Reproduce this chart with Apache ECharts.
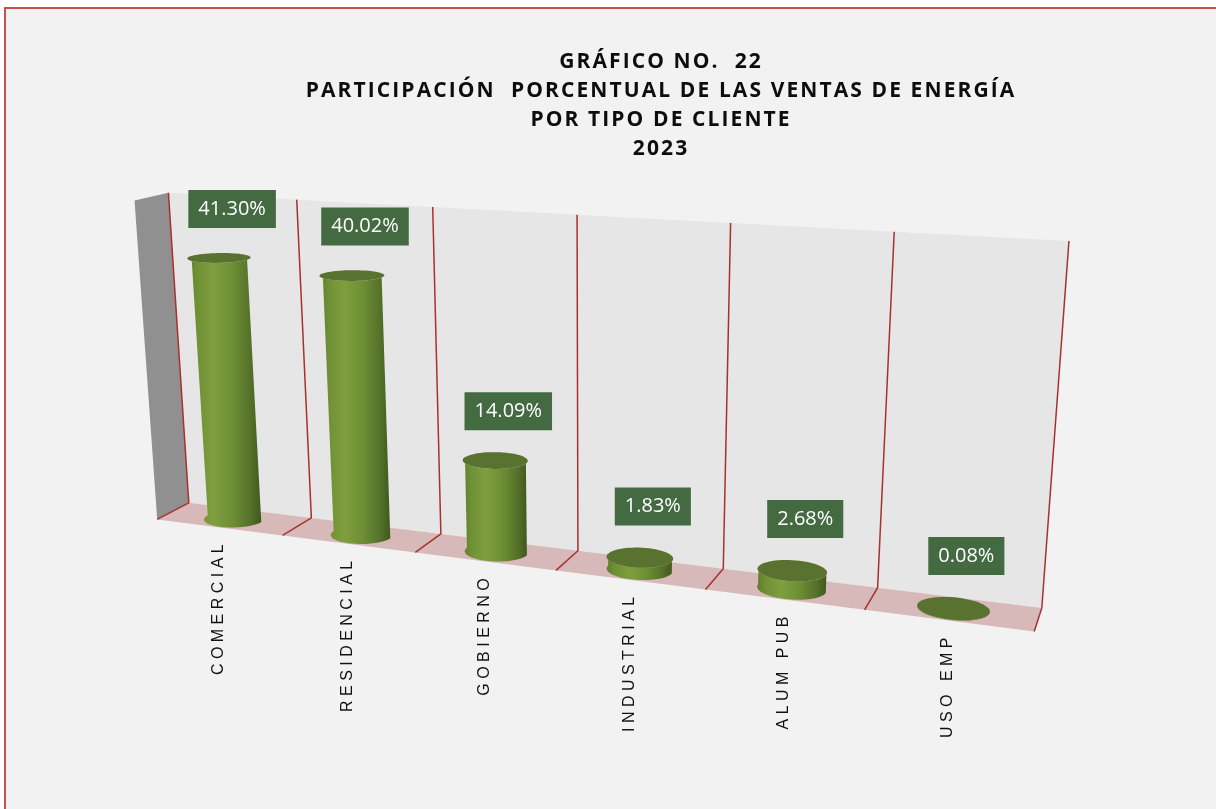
<!DOCTYPE html>
<html>
<head>
<meta charset="utf-8">
<script src="https://cdn.jsdelivr.net/npm/echarts@6/dist/echarts.min.js"></script>
<style>
  html, body { margin: 0; padding: 0; background: #ffffff; }
  #chart { width: 1216px; height: 809px; }
</style>
</head>
<body>
<div id="chart"></div>
<script>
// chart data
const categories = ['COMERCIAL', 'RESIDENCIAL', 'GOBIERNO', 'INDUSTRIAL', 'ALUM PUB', 'USO EMP'];
const shares = [41.30, 40.02, 14.09, 1.83, 2.68, 0.08];
const valueMax = 50;
const titleLines = [
    'GRÁFICO NO.  22',
    'PARTICIPACIÓN  PORCENTUAL DE LAS VENTAS DE ENERGÍA',
    'POR TIPO DE CLIENTE',
    '2023'
];

// perspective frame: world point [X (0..1 across), Y (0..1 up), Z (0 back .. 1 front)] -> screen px
const frameAnchors = [
    [0, 1, 0, 168, 193],
    [1, 1, 0, 1069, 241],
    [0, 0, 0, 189, 503],
    [1, 0, 0, 1042, 608],
    [0, 0, 1, 157, 520],
    [1, 0, 1, 1034, 632],
    [0, 1, 1, 135, 200],
    [0.5, 1, 0, 577, 215],
    [0.5, 0, 0, 578, 550],
    [0.5, 0, 1, 556, 570]
];

const colors = {
    wall: '#e6e6e6',
    floor: '#d7b9b9',
    side: '#909090',
    divider: '#a8312e',
    cap: '#5a722f',
    label: '#446a42'
};

// Excel draws these texts letter-spaced
const spaced = (s, sep) => s.split('').join(sep);

// least squares fit of a 3x4 projection (last entry fixed to 1)
function fitProjection(pts) {
    const N = 11;
    const ata = Array.from({ length: N }, () => new Array(N).fill(0));
    const atb = new Array(N).fill(0);
    pts.forEach(([X, Y, Z, px, py]) => {
        const u = px / 1000, v = py / 1000;
        const rows = [
            [[X, Y, Z, 1, 0, 0, 0, 0, -u * X, -u * Y, -u * Z], u],
            [[0, 0, 0, 0, X, Y, Z, 1, -v * X, -v * Y, -v * Z], v]
        ];
        rows.forEach(([r, b]) => {
            for (let a = 0; a < N; a++) {
                atb[a] += r[a] * b;
                for (let c = 0; c < N; c++) ata[a][c] += r[a] * r[c];
            }
        });
    });
    for (let c = 0; c < N; c++) {
        let p = c;
        for (let r = c + 1; r < N; r++) if (Math.abs(ata[r][c]) > Math.abs(ata[p][c])) p = r;
        [ata[c], ata[p]] = [ata[p], ata[c]];
        [atb[c], atb[p]] = [atb[p], atb[c]];
        for (let r = 0; r < N; r++) {
            if (r === c) continue;
            const f = ata[r][c] / ata[c][c];
            for (let k = c; k < N; k++) ata[r][k] -= f * ata[c][k];
            atb[r] -= f * atb[c];
        }
    }
    return atb.map((b, a) => b / ata[a][a]);
}

const P = fitProjection(frameAnchors);

function project(X, Y, Z) {
    const w = P[8] * X + P[9] * Y + P[10] * Z + 1;
    return [
        1000 * (P[0] * X + P[1] * Y + P[2] * Z + P[3]) / w,
        1000 * (P[4] * X + P[5] * Y + P[6] * Z + P[7]) / w
    ];
}

function quad(points, fill) {
    return { type: 'polygon', shape: { points }, style: { fill } };
}

// walls, floor, dividers and category names
function renderFrame(params, api) {
    const i = api.value(0);
    const cs = params.coordSys;
    const center = api.coord([i, 0]);
    const band = api.size([1, 0])[0];
    const x0 = (center[0] - band / 2 - cs.x) / cs.width;
    const x1 = (center[0] + band / 2 - cs.x) / cs.width;
    const xc = (center[0] - cs.x) / cs.width;

    const children = [
        quad([project(x0, 1, 0), project(x1, 1, 0), project(x1, 0, 0), project(x0, 0, 0)], colors.wall),
        quad([project(x0, 0, 0), project(x1, 0, 0), project(x1, 0, 1), project(x0, 0, 1)], colors.floor)
    ];
    if (i === 0) {
        children.push(quad([project(0, 1, 1), project(0, 1, 0), project(0, 0, 0), project(0, 0, 1)], colors.side));
    }
    const edges = [x0];
    if (i === categories.length - 1) edges.push(x1);
    edges.forEach(x => {
        children.push({
            type: 'polyline',
            shape: { points: [project(x, 1, 0), project(x, 0, 0), project(x, 0, 1)] },
            style: { stroke: colors.divider, lineWidth: 1.5, fill: null }
        });
    });

    const front = project(xc, 0, 1);
    children.push({
        type: 'text',
        x: front[0],
        y: front[1] + 17,
        rotation: Math.PI / 2,
        style: {
            text: spaced(categories[i], ' '),
            align: 'right',
            verticalAlign: 'middle',
            font: '16px "Liberation Sans"',
            fill: '#111111'
        }
    });
    return { type: 'group', children };
}

const cylRadius = 0.216;   // share of the band width
const cylDepth = 0.5;
const cylDepthRadius = 0.47;

// cylinders and value boxes
function renderCylinder(params, api) {
    const i = api.value(0);
    const val = api.value(1);
    const cs = params.coordSys;
    const base = api.coord([i, 0]);
    const top = api.coord([i, val]);
    const band = api.size([1, 0])[0];
    const xc = (base[0] - cs.x) / cs.width;
    const h = (base[1] - top[1]) / cs.height;
    const rx = cylRadius * band / cs.width;

    const ring = (y, from, to, steps) => {
        const pts = [];
        for (let s = 0; s <= steps; s++) {
            const t = from + (to - from) * s / steps;
            pts.push(project(xc + rx * Math.cos(t), y, cylDepth + cylDepthRadius * Math.sin(t)));
        }
        return pts;
    };

    const body = ring(0, 0, Math.PI, 30).concat(ring(h, Math.PI, 0, 30));
    const cap = ring(h, 0, Math.PI * 2, 60);
    const capTop = Math.min(...cap.map(p => p[1]));
    const topCenter = project(xc, h, cylDepth);

    return {
        type: 'group',
        children: [
            {
                type: 'polygon',
                shape: { points: body },
                style: {
                    fill: new echarts.graphic.LinearGradient(0, 0, 1, 0, [
                        { offset: 0, color: '#5d7d2b' },
                        { offset: 0.12, color: '#6e8f34' },
                        { offset: 0.35, color: '#7f9f3f' },
                        { offset: 0.6, color: '#6f8f35' },
                        { offset: 0.85, color: '#55722a' },
                        { offset: 1, color: '#41581d' }
                    ])
                }
            },
            { type: 'polygon', shape: { points: cap }, style: { fill: colors.cap } },
            {
                type: 'text',
                style: {
                    x: topCenter[0] + 13,
                    y: Math.min(topCenter[1], capTop + 8) - 49,
                    text: val.toFixed(2) + '%',
                    align: 'center',
                    verticalAlign: 'middle',
                    font: '20px "Open Sans"',
                    lineHeight: 24,
                    fill: '#ffffff',
                    backgroundColor: colors.label,
                    padding: [7, 10]
                }
            }
        ]
    };
}

const chart = echarts.init(document.getElementById('chart'));
chart.setOption({
    animation: false,
    title: {
        text: titleLines.map(t => spaced(t, '\u200A')).join('\n'),
        left: 655,
        top: 43,
        textAlign: 'center',
        textStyle: {
            fontFamily: 'Open Sans',
            fontWeight: 'bold',
            fontSize: 21,
            lineHeight: 29,
            color: '#0d0d0d'
        }
    },
    graphic: [{
        type: 'rect',
        z: -10,
        shape: { x: 5, y: 8, width: 1300, height: 900 },
        style: { fill: '#f2f2f2', stroke: '#c9504f', lineWidth: 2 }
    }],
    grid: { left: 100, right: 100, top: 100, bottom: 100 },
    xAxis: { type: 'category', data: categories, show: false },
    yAxis: { type: 'value', min: 0, max: valueMax, show: false },
    series: [
        {
            type: 'custom',
            z: 1,
            renderItem: renderFrame,
            data: categories.map((c, i) => [i, 0])
        },
        {
            type: 'custom',
            z: 3,
            renderItem: renderCylinder,
            data: shares.map((v, i) => [i, v])
        }
    ]
});
</script>
</body>
</html>
